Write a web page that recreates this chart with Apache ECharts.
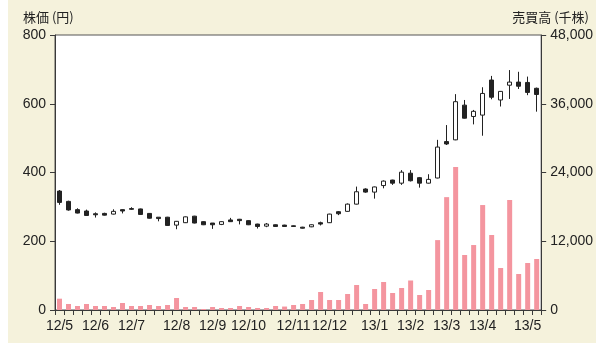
<!DOCTYPE html>
<html>
<head>
<meta charset="utf-8">
<script src="https://cdn.jsdelivr.net/npm/echarts@6/dist/echarts.min.js"></script>
<style>
  body { margin: 0; background: #fff; }
  #chart { position: absolute; left: 8px; top: 0; width: 588px; height: 343px; background: #f5f2dc; }
</style>
</head>
<body>
<div id="chart"></div>
<script>
// 月のラベルと、その週の位置
const monthLabels = ['12/5', '12/6', '12/7', '12/8', '12/9', '12/10', '12/11', '12/12', '13/1', '13/2', '13/3', '13/4', '13/5'];
const monthWeeks = [0, 4, 8, 13, 17, 21, 26, 30, 35, 39, 43, 47, 52];

// 週足: [始値, 終値, 安値, 高値]
const prices = [
  [346, 313, 306, 349], [316, 291, 289, 318], [292, 282, 281, 296], [288, 275, 274, 292],
  [280, 277, 269, 284], [281, 276, 275, 283], [279, 287, 278, 293], [292, 288, 281, 293],
  [295, 293, 291, 299], [294, 278, 277, 295], [281, 267, 266, 282], [270, 266, 258, 270],
  [270, 246, 245, 271], [247, 258, 235, 259], [254, 271, 253, 272], [273, 253, 252, 274],
  [257, 248, 247, 258], [253, 248, 236, 253], [249, 257, 247, 258], [262, 257, 256, 268],
  [264, 260, 249, 265], [260, 248, 247, 261], [250, 243, 237, 251], [244, 250, 241, 253],
  [248, 243, 242, 249], [247, 243, 242, 248], [245, 243, 242, 246], [241, 238, 237, 242],
  [242, 248, 241, 249], [254, 250, 246, 257], [254, 279, 253, 280], [286, 280, 276, 288],
  [287, 308, 286, 310], [308, 344, 307, 359], [352, 343, 341, 354], [343, 358, 324, 359],
  [362, 375, 354, 377], [378, 369, 364, 379], [369, 401, 364, 407], [398, 376, 374, 407],
  [385, 369, 356, 387], [369, 380, 368, 395], [384, 474, 383, 495], [490, 483, 480, 538],
  [495, 606, 494, 628], [596, 558, 557, 611], [563, 578, 540, 582], [567, 630, 507, 648],
  [669, 619, 613, 681], [611, 636, 592, 637], [654, 663, 614, 698], [663, 651, 643, 693],
  [662, 633, 625, 679], [645, 627, 577, 647]
];

// 売買高（千株）
const volumes = [
  1975, 1050, 700, 1050, 700, 700, 520, 1220, 700, 700, 870, 700, 870, 2090,
  520, 520, 175, 520, 350, 350, 700, 520, 350, 350, 700, 600, 870, 1050,
  1750, 3140, 1750, 1750, 2790, 4360, 1050, 3670, 4890, 2970, 3840, 5150,
  2620, 3490, 12200, 19700, 24950, 9600, 11340, 18320, 13090, 7330, 19200,
  6280, 8200, 8900
];

const weeks = prices.map((p, i) => {
  const k = monthWeeks.indexOf(i);
  return k >= 0 ? monthLabels[k] : '';
});

const chart = echarts.init(document.getElementById('chart'));

const axisStyle = { lineStyle: { color: '#3a3a3a', width: 1 } };
const labelStyle = { color: '#222', fontSize: 14, fontFamily: 'Liberation Sans, Arial, sans-serif' };

const option = {
  animation: false,
  grid: {
    left: 47, right: 46, top: 35, bottom: 33,
    show: true, backgroundColor: '#fff', borderColor: '#555', borderWidth: 1
  },
  graphic: [
    { type: 'text', left: 15, top: 11, style: { text: '株価 (円)', fontSize: 13, fill: '#222', fontFamily: 'Noto Sans CJK JP' } },
    { type: 'text', right: 7, top: 11, style: { text: '売買高 (千株)', fontSize: 13, fill: '#222', fontFamily: 'Noto Sans CJK JP' } }
  ],
  xAxis: {
    type: 'category',
    data: weeks,
    boundaryGap: true,
    axisLine: axisStyle,
    axisTick: { show: true, interval: 0, length: 5, lineStyle: { color: '#3a3a3a' } },
    axisLabel: Object.assign({ interval: 0, margin: 9 }, labelStyle),
    splitLine: { show: false }
  },
  yAxis: [
    {
      type: 'value', min: 0, max: 800, interval: 200,
      axisLine: Object.assign({ show: true }, axisStyle),
      axisTick: { show: true, length: 5, lineStyle: { color: '#3a3a3a' } },
      axisLabel: Object.assign({ margin: 9 }, labelStyle),
      splitLine: { show: false }
    },
    {
      type: 'value', min: 0, max: 48000, interval: 12000,
      axisLine: Object.assign({ show: true }, axisStyle),
      axisTick: { show: true, length: 5, lineStyle: { color: '#3a3a3a' } },
      axisLabel: Object.assign({ margin: 9, formatter: v => v.toLocaleString('en-US') }, labelStyle),
      splitLine: { show: false }
    }
  ],
  series: [
    {
      name: '売買高',
      type: 'bar',
      yAxisIndex: 1,
      data: volumes,
      barWidth: 5,
      itemStyle: { color: '#f4959f' }
    },
    {
      name: '株価',
      type: 'candlestick',
      yAxisIndex: 0,
      data: prices,
      barWidth: 5,
      itemStyle: {
        color: '#fff', color0: '#222',
        borderColor: '#222', borderColor0: '#222', borderWidth: 1
      }
    }
  ]
};

chart.setOption(option);
</script>
</body>
</html>
